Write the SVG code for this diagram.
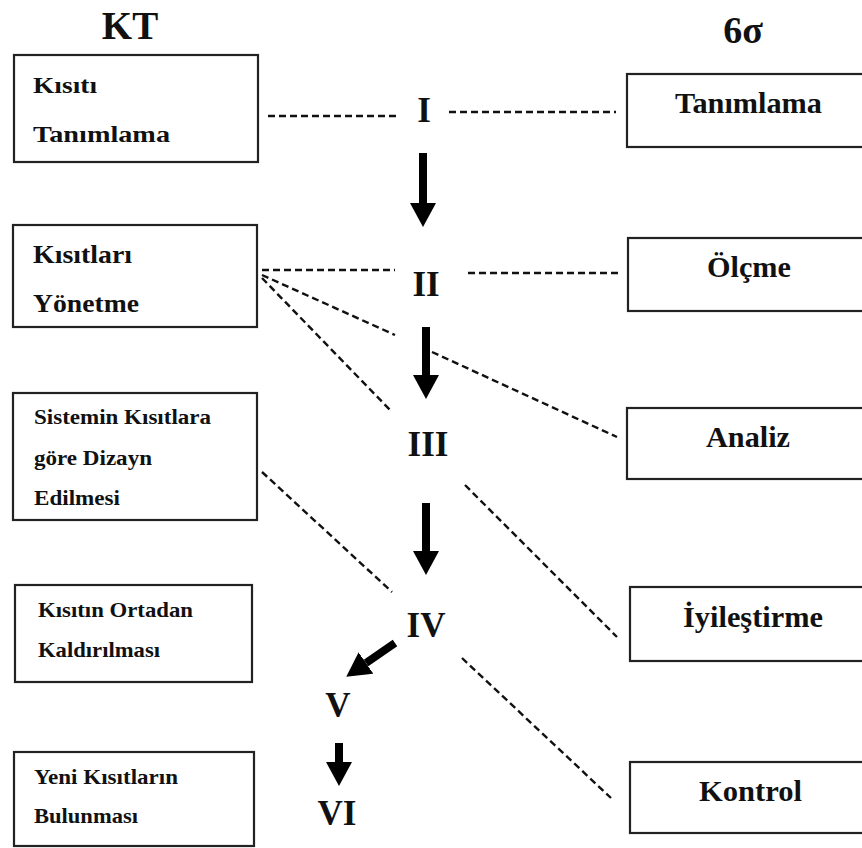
<svg xmlns="http://www.w3.org/2000/svg" width="862" height="848" viewBox="0 0 862 848">
<defs>
<style>
.box{fill:#fff;stroke:#222;stroke-width:2.2}
.t{font-family:"Liberation Serif","Times New Roman",serif;font-weight:bold;fill:#111}
.dash{fill:none;stroke:#111;stroke-width:2.4;stroke-dasharray:7 4}
.arr{fill:none;stroke:#000;stroke-width:8;marker-end:url(#ah)}
</style>
<marker id="ah" viewBox="0 0 24 26" refX="0" refY="13" markerWidth="24" markerHeight="26" markerUnits="userSpaceOnUse" orient="auto">
<path d="M0,0 L24,13 L0,26 Z" fill="#000"/>
</marker>
</defs>
<rect width="862" height="848" fill="#fff"/>

<g id="headers">
<text class="t" x="130" y="39" font-size="39" text-anchor="middle">KT</text>
<text class="t" x="743" y="43" font-size="38" text-anchor="middle">6σ</text>
</g>

<g id="kt1">
<rect class="box" x="14" y="55" width="244" height="107"/>
<text class="t" x="33" y="93" font-size="23" textLength="64" lengthAdjust="spacingAndGlyphs">Kısıtı</text>
<text class="t" x="33" y="142" font-size="23" textLength="137" lengthAdjust="spacingAndGlyphs">Tanımlama</text>
</g>
<g id="kt2">
<rect class="box" x="13" y="225" width="244" height="102"/>
<text class="t" x="33" y="263" font-size="26" textLength="99" lengthAdjust="spacingAndGlyphs">Kısıtları</text>
<text class="t" x="33" y="312" font-size="26" textLength="106" lengthAdjust="spacingAndGlyphs">Yönetme</text>
</g>
<g id="kt3">
<rect class="box" x="13" y="393" width="244" height="127"/>
<text class="t" x="34" y="424" font-size="20" textLength="177" lengthAdjust="spacingAndGlyphs">Sistemin Kısıtlara</text>
<text class="t" x="34" y="465" font-size="20" textLength="118" lengthAdjust="spacingAndGlyphs">göre Dizayn</text>
<text class="t" x="34" y="505" font-size="20" textLength="86" lengthAdjust="spacingAndGlyphs">Edilmesi</text>
</g>
<g id="kt4">
<rect class="box" x="15" y="585" width="237" height="97"/>
<text class="t" x="38" y="617" font-size="21" textLength="155" lengthAdjust="spacingAndGlyphs">Kısıtın Ortadan</text>
<text class="t" x="38" y="657" font-size="21" textLength="122" lengthAdjust="spacingAndGlyphs">Kaldırılması</text>
</g>
<g id="kt5">
<rect class="box" x="14" y="752" width="240" height="94"/>
<text class="t" x="34" y="784" font-size="22" textLength="144" lengthAdjust="spacingAndGlyphs">Yeni Kısıtların</text>
<text class="t" x="34" y="823" font-size="22" textLength="104" lengthAdjust="spacingAndGlyphs">Bulunması</text>
</g>

<g id="s1">
<rect class="box" x="627" y="74" width="245" height="73"/>
<text class="t" x="675" y="113" font-size="29" textLength="147" lengthAdjust="spacingAndGlyphs">Tanımlama</text>
</g>
<g id="s2">
<rect class="box" x="628" y="238" width="245" height="73"/>
<text class="t" x="707" y="277" font-size="29" textLength="84" lengthAdjust="spacingAndGlyphs">Ölçme</text>
</g>
<g id="s3">
<rect class="box" x="627" y="408" width="245" height="71"/>
<text class="t" x="706" y="447" font-size="29" textLength="84" lengthAdjust="spacingAndGlyphs">Analiz</text>
</g>
<g id="s4">
<rect class="box" x="630" y="587" width="245" height="74"/>
<text class="t" x="683" y="627" font-size="29" textLength="140" lengthAdjust="spacingAndGlyphs">İyileştirme</text>
</g>
<g id="s5">
<rect class="box" x="630" y="762" width="245" height="71"/>
<text class="t" x="699" y="801" font-size="29" textLength="103" lengthAdjust="spacingAndGlyphs">Kontrol</text>
</g>

<g id="steps" class="t" font-size="35" text-anchor="middle">
<text x="424" y="122">I</text>
<text x="426" y="296">II</text>
<text x="428" y="456">III</text>
<text x="426" y="637">IV</text>
<text x="338" y="717">V</text>
<text x="337" y="825">VI</text>
</g>

<g id="connectors">
<line class="dash" x1="268" y1="116" x2="398" y2="116"/>
<line class="dash" x1="449" y1="112" x2="616" y2="112"/>
<line class="dash" x1="262" y1="270" x2="395" y2="270"/>
<line class="dash" x1="468" y1="273" x2="618" y2="273"/>
<line class="dash" x1="262" y1="275" x2="395" y2="335"/>
<line class="dash" x1="432" y1="352" x2="617" y2="437"/>
<line class="dash" x1="262" y1="278" x2="392" y2="412"/>
<line class="dash" x1="262" y1="472" x2="392" y2="592"/>
<line class="dash" x1="465" y1="485" x2="617" y2="637"/>
<line class="dash" x1="462" y1="658" x2="611" y2="798"/>
<line class="arr" x1="423" y1="153" x2="423" y2="203"/>
<line class="arr" x1="426" y1="327" x2="426" y2="375"/>
<line class="arr" x1="426" y1="503" x2="426" y2="551"/>
<line class="arr" x1="395" y1="643" x2="366" y2="663"/>
<line class="arr" x1="339" y1="743" x2="339" y2="762"/>
</g>
</svg>
